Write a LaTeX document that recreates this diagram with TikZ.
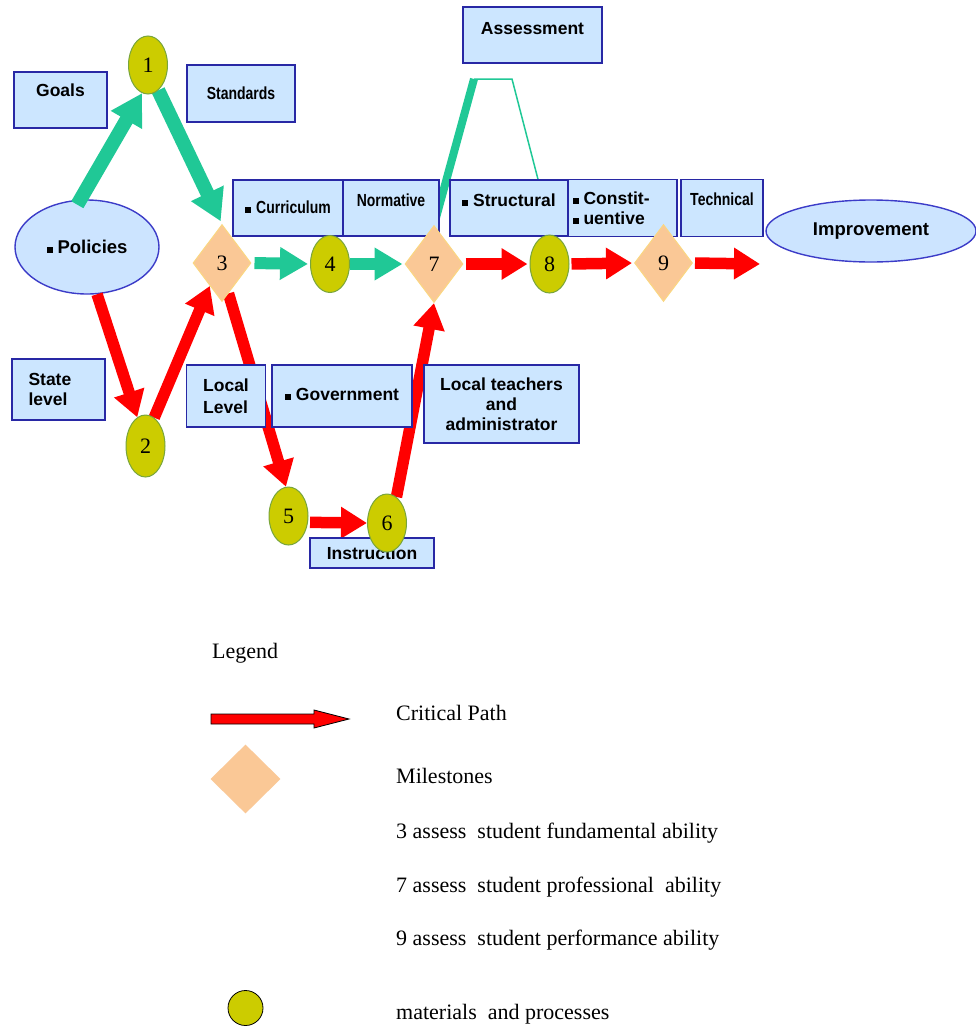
\documentclass[tikz,border=0pt]{standalone}
\usepackage{graphicx}
\usepackage{fontspec}
\setmainfont{Liberation Serif}
\newfontfamily\arial{Liberation Sans}
\usetikzlibrary{shapes.geometric,arrows.meta,calc}
\definecolor{bfill}{RGB}{204,230,255}
\definecolor{bdraw}{RGB}{40,40,165}
\definecolor{efill}{RGB}{204,228,255}
\definecolor{edraw}{RGB}{60,60,200}
\definecolor{grn}{RGB}{32,200,150}
\definecolor{rd}{RGB}{255,0,0}
\definecolor{pfill}{RGB}{250,200,150}
\definecolor{pdraw}{RGB}{250,215,130}
\definecolor{yfill}{RGB}{204,204,0}
\definecolor{ydraw}{RGB}{120,165,60}
\newcommand{\bul}{\rule[0.5pt]{6pt}{6pt}\hspace{5pt}}
\newcommand{\cond}[1]{\scalebox{0.8}[1]{#1}}
\pgfdeclarelayer{back}
\pgfdeclarelayer{bg}
\pgfsetlayers{back,bg,main}
\begin{document}
\begin{tikzpicture}[x=1pt,y=-1pt,
 box/.style={draw=bdraw, fill=bfill, line width=1.4pt, font=\arial\bfseries\fontsize{17.5}{20}\selectfont, inner xsep=0pt, inner ysep=0pt},
 ell/.style={ellipse, draw=edraw, fill=efill, line width=1.4pt, font=\arial\bfseries\fontsize{18.5}{22}\selectfont, inner sep=0pt},
 mile/.style={diamond, draw=pdraw, fill=pfill, line width=1pt, inner sep=0pt, minimum width=58pt, minimum height=77pt, font=\fontsize{22}{24}\selectfont},
 proc/.style={ellipse, draw=ydraw, fill=yfill, line width=1pt, inner sep=0pt, minimum width=39pt, minimum height=58pt, font=\fontsize{22}{24}\selectfont},
 garrow/.style={draw=grn, line width=12pt, -{Triangle[length=28pt,width=31pt]}},
 gdiag/.style={draw=grn, line width=14pt, -{Triangle[length=31pt,width=34pt]}},
 rarrow/.style={draw=rd, line width=11.5pt, -{Triangle[length=26pt,width=30pt]}},
 leg/.style={anchor=base west, font=\fontsize{22}{24}\selectfont, inner sep=0pt},
]
\begin{pgfonlayer}{back}
\fill[white] (0,0) rectangle (976,1026);
\end{pgfonlayer}
\useasboundingbox (0,0) rectangle (976,1026);

% boxes
\node[box, minimum width=93pt, text height=24.3pt, text depth=31.7pt] (goals) at (60.5,100) {Goals};
\node[box, minimum width=108pt, text height=34.8pt, text depth=22.2pt] (stand) at (241,93.5) {\cond{Standards}};
\node[box, minimum width=139pt, text height=27.3pt, text depth=28.7pt] (assess) at (532.5,35) {Assessment};
\node[box, minimum width=110pt, text height=33.3pt, text depth=22.7pt] (curr) at (288,208) {\bul\cond{Curriculum}};
\node[box, minimum width=96pt, text height=26.3pt, text depth=29.7pt] (norm) at (391,208) {\cond{Normative}};
\node[box, minimum width=118pt, text height=26.3pt, text depth=29.7pt] (struct) at (509,208) {\bul Structural};
\node[box, minimum width=109pt, minimum height=57pt, text width=100pt, align=left] (const) at (622.5,208) {\bul Constit-\\\bul uentive};
\node[box, minimum width=82pt, text height=25.8pt, text depth=31.2pt] (tech) at (722,208) {\cond{Technical}};
\node[box, minimum width=93pt, minimum height=61pt, text width=60pt, align=left] (state) at (58.5,389.5) {State\\level};
\node[box, minimum width=79pt, minimum height=62pt, align=left, font=\arial\bfseries\fontsize{17.5}{22}\selectfont] (local) at (226,396) {Local\\Level};
\node[box, minimum width=140pt, text height=35.3pt, text depth=26.7pt] (gov) at (342,396) {\bul Government};
\node[box, minimum width=155pt, minimum height=78pt, align=center] (teach) at (501.5,404) {Local teachers\\and\\administrator};
\node[box, minimum width=124pt, text height=21.3pt, text depth=8.7pt] (instr) at (372,553) {Instruction};

\node[ell, minimum width=210pt, minimum height=62pt] (imp) at (871,231) {Improvement};

% milestones and processes
\node[mile] (d3) at (222,263) {3};
\node[mile] (d7) at (434,264) {7};
\node[mile] (d9) at (663.5,263) {9};
\node[proc] (c1) at (148,65) {1};
\node[proc, minimum height=62pt] (c2) at (145.5,446) {2};
\node[proc, minimum height=57pt] (c4) at (330,264) {4};
\node[proc] (c5) at (288.5,516) {5};
\node[proc] (c6) at (387,523) {6};
\node[proc] (c8) at (549.5,264) {8};

\coordinate (endR) at (760,264);
\coordinate (ak1) at (474,79);
\coordinate (ak2) at (512,79);
\coordinate (ak3) at ($(struct.north)+(29,0)$);

\begin{pgfonlayer}{bg}
\node[ell, minimum width=144pt, minimum height=94pt] (pol) at (87,247) {\bul Policies};
% assessment connector
\draw[grn, line width=8pt] (d7.north) -- (ak1);
\draw[grn, line width=1.5pt] (ak1) -- (ak2) -- (ak3);
% green arrows
\draw[gdiag, shorten <=-6pt] (pol.98) -- (c1.258);
\draw[gdiag, shorten >=3pt] (c1.292) -- (d3.north);
\draw[garrow, shorten <=3pt, shorten >=2pt] (d3.east) -- (c4.west);
\draw[garrow, shorten >=2pt] (c4.east) -- (d7.west);
% red arrows
\draw[rarrow] (pol.282) -- (c2.106);
\draw[rarrow] (c2.73) -- (d3.242);
\draw[rarrow] (d3.-78) -- (c5.95);
\draw[rarrow, shorten <=2pt] (c5.-18) -- (c6.west);
\draw[rarrow] (c6.70) -- (d7.south);
\draw[rarrow, shorten <=2pt, shorten >=2pt] (d7.east) -- (c8.west);
\draw[rarrow, shorten <=2pt, shorten >=2pt] (c8.east) -- (d9.west);
\draw[rarrow, shorten <=2pt] (d9.east) -- (endR);
\end{pgfonlayer}

% legend
\node[leg] (legT) at (212,658) {Legend};
\draw[fill=rd, draw=black, line width=0.8pt] (211,714) -- (314,714) -- (314,710) -- (349,719) -- (314,728) -- (314,724) -- (211,724) -- cycle;
\node[leg] (legCP) at (396,720) {Critical Path};
\node[diamond, fill=pfill, minimum width=70pt, minimum height=69pt, inner sep=0pt] (legD) at (245.5,779) {};
\node[leg] (legM) at (396,783) {Milestones};
\node[leg] (leg3) at (396,838) {3 assess\ \ student fundamental ability};
\node[leg] (leg7) at (396,892) {7 assess\ \ student professional\ \ ability};
\node[leg] (leg9) at (396,945) {9 assess\ \ student performance ability};
\node[circle, fill=yfill, draw=black, line width=0.8pt, minimum size=35pt, inner sep=0pt] (legC) at (245.5,1008) {};
\node[leg] (legMP) at (396,1019) {materials\ \ and processes};
\end{tikzpicture}
\end{document}
